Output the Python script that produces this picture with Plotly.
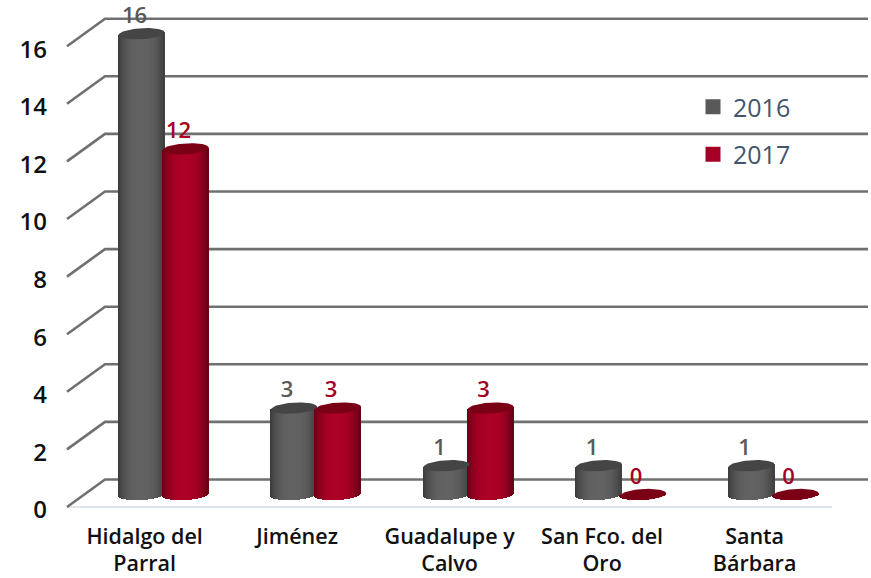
import math
import plotly.graph_objects as go

categories = ["Hidalgo del<br>Parral", "Jiménez", "Guadalupe y<br>Calvo", "San Fco. del<br>Oro", "Santa<br>Bárbara"]
values_2016 = [16, 3, 1, 1, 1]
values_2017 = [12, 3, 3, 0, 0]
y_ticks = [0, 2, 4, 6, 8, 10, 12, 14, 16]

W, H = 871, 578
PX_UNIT = 28.8      # pixels per value unit
PX_CAT = 152.5      # pixels per category
X0, Y0 = 163.6, 494.5  # pixel of category 0 / of value 0 (cylinder base centre)
A, B, TILT = 23.0, 5.5, 1.3
SERIES_OFFSET = 22.0

FONT = "Open Sans"
GREY = "#595959"
RED = "#a50026"

def px_x(p): return p / PX_CAT
def px_y(p): return p / PX_UNIT

def mix(c1, c2, f):
    return "rgb(%d,%d,%d)" % tuple(round(a + (b - a) * f) for a, b in zip(c1, c2))

def cylinder(values, sign, edge_left, edge_right, mid, cap, name):
    xs, ys, bases, offs, cols = [], [], [], [], []
    n = int(2 * A)
    for i, v in enumerate(values):
        for s in range(n):
            t = (s + 0.5) / n * 2 - 1
            bottom = px_y(-B * math.sqrt(max(0, 1 - t * t)) + TILT * t)
            top = v + px_y(TILT * t)
            xs.append(i)
            bases.append(bottom)
            ys.append(top - bottom)
            offs.append(px_x(sign * SERIES_OFFSET + t * A - 0.75))
            f = 1 - abs(t) ** 2.6
            cols.append(mix(edge_left if t < 0 else edge_right, mid, f))
    body = go.Bar(x=xs, y=ys, base=bases, offset=offs, width=[px_x(1.5)] * len(xs),
                  marker=dict(color=cols, line=dict(width=0)), showlegend=False, hoverinfo="skip")
    caps = []
    for i, v in enumerate(values):
        th = [k * 2 * math.pi / 72 for k in range(73)]
        caps.append(go.Scatter(
            x=[i + px_x(sign * SERIES_OFFSET + A * math.cos(a)) for a in th],
            y=[v + px_y(B * math.sin(a) + TILT * math.cos(a)) for a in th],
            mode="lines", fill="toself", fillcolor=cap, line=dict(width=0, color=cap),
            showlegend=False, hoverinfo="skip"))
    return body, caps

fig = go.Figure()
b16, c16 = cylinder(values_2016, -1, (58, 58, 58), (62, 62, 62), (98, 98, 98), "#454545", "2016")
b17, c17 = cylinder(values_2017, 1, (104, 0, 22), (100, 0, 20), (172, 0, 38), "#7a0016", "2017")
fig.add_trace(b16)
fig.add_trace(b17)
for c in c16 + c17:
    fig.add_trace(c)

# data labels
def labels(values, sign, color, name):
    return go.Scatter(
        x=[i + px_x(sign * SERIES_OFFSET - 7) for i in range(len(values))],
        y=[v + px_y(16.5) for v in values],
        text=[str(v) for v in values], mode="text", textposition="middle center",
        textfont=dict(family=FONT, size=22, color=color, weight=600),
        showlegend=False, hoverinfo="skip", cliponaxis=False)
fig.add_trace(labels(values_2016, -1, GREY, "2016"))
fig.add_trace(labels(values_2017, 1, RED, "2017"))

# legend entries
for nm, col in (("2016", GREY), ("2017", RED)):
    fig.add_trace(go.Scatter(x=[None], y=[None], mode="markers", name=nm, legendgroup=nm,
                             marker=dict(symbol="square", size=15, color=col)))

# overlay axes carrying the tick labels
fig.add_trace(go.Scatter(x=list(range(len(categories))), y=y_ticks[:len(categories)],
                         xaxis="x2", yaxis="y2", mode="none", showlegend=False, hoverinfo="skip"))

# 3D walls: floor and grid drawn from the value ticks
shapes = []
for v in y_ticks:
    fx, fy = px_x(67 - X0), v - px_y(12.5)
    bx, by = px_x(105 - X0), v + px_y(15)
    ex = px_x(868 - X0)
    shapes.append(dict(type="path", xref="x", yref="y", layer="below",
                       path=f"M {fx} {fy} L {bx} {by} L {ex} {by}",
                       line=dict(color="#707070", width=2.6)))
shapes.insert(0, dict(type="line", xref="x", yref="y", layer="below",
                      x0=px_x(67 - X0), x1=px_x(832 - X0), y0=-px_y(12.5), y1=-px_y(12.5),
                      line=dict(color="#dfe4ea", width=2)))

LABEL_SHIFT = -19.0
FRONT_SHIFT = 15.5
fig.update_layout(
    width=W, height=H, autosize=False, margin=dict(l=0, r=0, t=0, b=0, autoexpand=False),
    paper_bgcolor="white", plot_bgcolor="white", barmode="overlay", bargap=0,
    shapes=shapes,
    xaxis=dict(range=[px_x(-X0), px_x(W - X0)], visible=False, fixedrange=True),
    yaxis=dict(range=[px_y(Y0 - H), px_y(Y0)], visible=False, fixedrange=True),
    xaxis2=dict(overlaying="x", anchor="free", position=(H - 521) / H, side="bottom",
                range=[px_x(-X0 - LABEL_SHIFT), px_x(W - X0 - LABEL_SHIFT)],
                tickmode="array", tickvals=list(range(len(categories))), ticktext=categories,
                showgrid=False, zeroline=False, showline=False, ticks="", automargin=False,
                tickfont=dict(family=FONT, size=21.5, color="#111111", weight=600), fixedrange=True),
    yaxis2=dict(overlaying="y", anchor="free", position=47 / W, side="left",
                range=[px_y(Y0 + FRONT_SHIFT - H), px_y(Y0 + FRONT_SHIFT)],
                tickmode="array", tickvals=y_ticks, ticktext=[str(v) for v in y_ticks],
                showgrid=False, zeroline=False, showline=False, ticks="", automargin=False,
                tickfont=dict(family=FONT, size=24, color="#111111", weight=600), fixedrange=True),
    legend=dict(x=693 / W, y=1 - 84 / H, xanchor="left", yanchor="top",
                bgcolor="rgba(0,0,0,0)", tracegroupgap=12, itemsizing="trace",
                font=dict(family=FONT, size=25, color="#44546a")),
)
fig.write_html("out.html", config=dict(displayModeBar=False),
               post_script="document.body.style.margin='0';")
